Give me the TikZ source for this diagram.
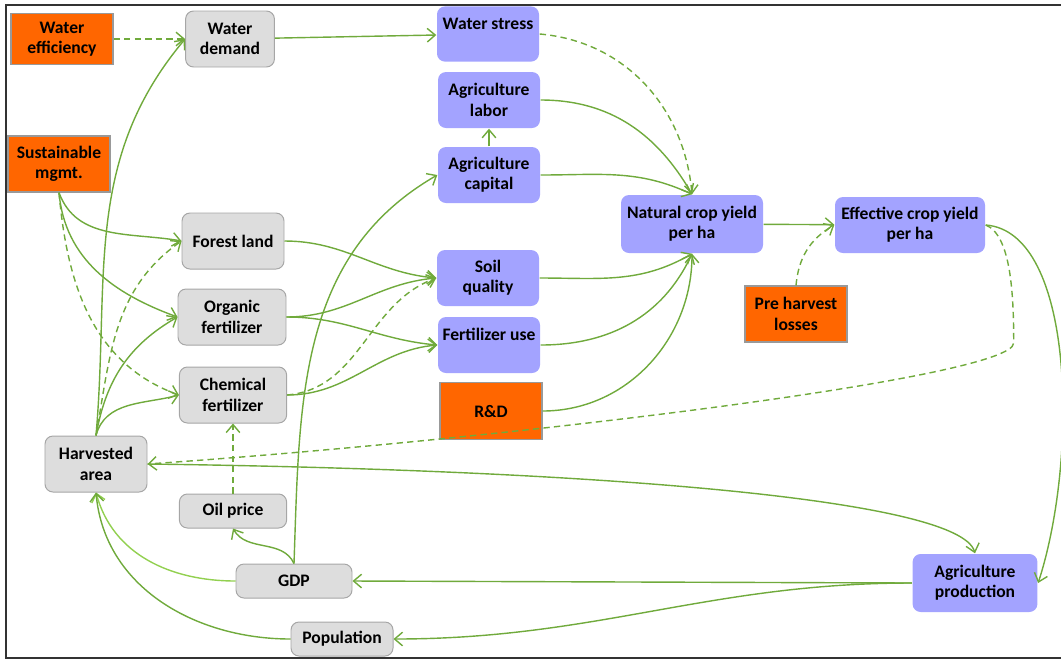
\documentclass[tikz,border=0pt]{standalone}
\usepackage{fontspec}
\setmainfont{Carlito}
\usetikzlibrary{arrows.meta}

\definecolor{linkgreen}{RGB}{112,170,60}
\definecolor{lightgreen}{RGB}{146,208,80}
\definecolor{inputorange}{RGB}{255,102,0}
\definecolor{varblue}{RGB}{163,163,255}
\definecolor{vargrey}{RGB}{221,221,221}

\begin{document}
\begin{tikzpicture}[x=0.25mm,y=-0.25mm,->,>={Straight Barb[length=2mm,width=3.4mm]},
  line width=1pt,
  main node/.style={rectangle,align=center,inner sep=1pt,
  font=\fontsize{12.5}{14.5}\selectfont\bfseries,minimum width=2.55cm,minimum height=1.4cm},
  grey node/.style={main node,rounded corners=2mm,fill=vargrey,draw=black!35,line width=0.7pt},
  blue node/.style={main node,rounded corners=2mm,fill=varblue},
  input node/.style={main node,fill=inputorange,draw=black!40,line width=0.8pt},
  dashed link/.style={dash pattern=on 4.5pt off 3pt}]

  \useasboundingbox (0,0) rectangle (1061,660);
  \draw[-,black!80] (1061,5) -- (6,5) -- (6,658) -- (1061,658);

  %Inputs and land side%
  \node[input node,minimum height=1.28cm] (WE) at (62,39) {Water\\efficiency};
  \node[grey node,minimum width=2.22cm] (WD) at (230,39) {Water\\demand};
  \node[input node] (SM) at (59,164) {Sustainable\\mgmt.};
  \node[grey node] (FL) at (233,241) {Forest land};
  \node[grey node,minimum width=2.7cm] (OF) at (232,317) {Organic\\fertilizer};
  \node[grey node,minimum width=2.68cm] (CF) at (233,395) {Chemical\\fertilizer};
  \node[grey node] (HA) at (96,464) {Harvested\\area};
  \node[grey node,minimum width=2.68cm,minimum height=0.85cm] (OP) at (233,511) {Oil price};
  \node[grey node,minimum width=2.9cm,minimum height=0.85cm] (GDP) at (294,581) {GDP};
  \node[grey node,minimum height=0.85cm] (POP) at (342,639) {Population};

  %Yield side%
  \node[blue node,minimum height=1.38cm] (WS) at (488,34) {Water stress\\~};
  \node[blue node] (AL) at (489,100) {Agriculture\\labor};
  \node[blue node] (AC) at (489,175) {Agriculture\\capital};
  \node[blue node] (SQ) at (488,278) {Soil\\quality};
  \node[blue node] (FU) at (489,345) {Fertilizer use\\~};
  \node[input node,minimum height=1.42cm] (RD) at (491,411) {R\&D};
  \node[blue node,minimum width=3.55cm,minimum height=1.45cm] (NCY) at (692,224) {Natural crop yield\\per ha};
  \node[blue node,minimum width=3.75cm] (ECY) at (910,225) {Effective crop yield\\per ha};
  \node[input node] (PHL) at (796,314) {Pre harvest\\losses};
  \node[blue node,minimum width=3.12cm,minimum height=1.45cm] (AP) at (975,583) {Agriculture\\production};

  \path[every edge/.style={draw=linkgreen}]

    %Water%
    (WE) edge [dashed link] (WD)
    (WD) edge (WS)
    (HA.north) edge [out=85,in=230] (WD.west)

    %Sustainable mgmt to land use and fertilizers%
    (SM.south) edge [out=-70,in=170] (FL.west)
    (SM.south) edge [out=-85,in=160] (OF.west)
    (SM.south) edge [dashed link,out=-85,in=160] (CF.west)

    %Harvested area to land use and fertilizers%
    (HA.north) edge [dashed link,out=80,in=215] (FL.west)
    (HA.north) edge [out=80,in=210] (OF.west)
    (HA.north) edge [out=75,in=195] (CF.west)

    %Land use and fertilizers to soil%
    (FL.east) edge [out=0,in=175] (SQ.west)
    (OF.east) edge [out=0,in=185] (SQ.west)
    (OF.east) edge [out=0,in=175] (FU.west)
    (CF.east) edge [dashed link,out=5,in=200] (SQ.west)
    (CF.east) edge [out=0,in=185] (FU.west)

    %Economy%
    (OP) edge [dashed link] (CF)
    (GDP.north) edge [out=115,in=-60] (OP.south)
    (GDP.north) edge [out=88,in=210] (AC.west)
    (GDP.west) edge [draw=lightgreen,out=180,in=-75] (HA.south)
    (POP.west) edge [out=180,in=-85] (HA.south)
    (AP.west) edge (GDP.east)
    (AP.west) edge [out=180,in=0] (POP.east)

    %Yield%
    (WS.east) edge [dashed link,out=-5,in=95] (NCY.north)
    (AL.east) edge [out=0,in=120] (NCY.north)
    (AC) edge (AL)
    (AC.east) edge [out=0,in=155] (NCY.north)
    (SQ.east) edge [out=0,in=-150] (NCY.south)
    (FU.east) edge [out=0,in=-115] (NCY.south)
    (RD.east) edge [out=0,in=-90] (NCY.south)
    (NCY) edge (ECY)
    (PHL.north) edge [dashed link,out=85,in=210] (ECY.west);

  %Production loop%
  \draw[linkgreen] (HA.east) .. controls +(453,6) and +(-15,-54) .. (AP.north);
  \draw[linkgreen] (ECY.east) .. controls +(90,7) and +(40,-123) .. (AP.east);
  \draw[linkgreen,dashed link] (ECY.east) .. controls +(25,10) and +(0,-50) .. ++(28,118)
    .. controls +(0,35) and +(350,-24) .. (HA.east);

\end{tikzpicture}
\end{document}
